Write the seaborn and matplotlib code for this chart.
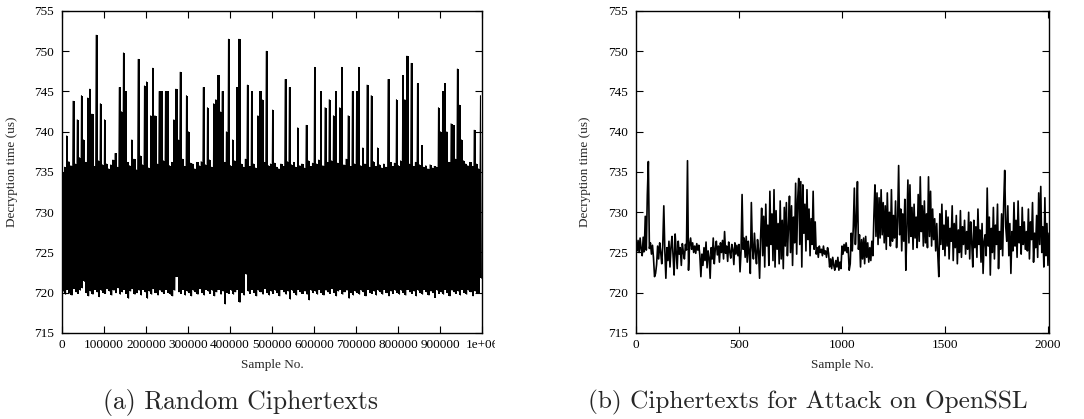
import numpy as np
import pandas as pd
import matplotlib
matplotlib.use("Agg")
import matplotlib.pyplot as plt
from matplotlib.transforms import Bbox, TransformedBbox
import seaborn as sns

# (a) random ciphertexts: 1e6 samples summarised as max / min per bin of 5000
BIN = 5000
rand_bin_max = [
    735.0, 735.6, 739.5, 736.3, 735.8, 743.8, 736.0, 741.5, 736.8, 744.5,
    739.0, 736.2, 744.2, 745.3, 742.2, 735.7, 752.0, 736.4, 743.5, 735.9,
    741.5, 736.0, 735.4, 735.9, 736.5, 737.3, 735.6, 745.5, 742.5, 749.8,
    745.0, 736.2, 735.8, 739.0, 736.6, 735.3, 749.0, 737.0, 735.9, 745.7,
    746.2, 735.5, 742.0, 747.9, 742.0, 736.0, 745.0, 745.0, 736.4, 745.0,
    745.0, 735.8, 736.2, 741.5, 745.3, 739.0, 747.4, 736.6, 735.7, 744.5,
    740.0, 736.1, 736.0, 735.4, 736.2, 735.8, 736.3, 745.5, 735.9, 743.0,
    736.5, 735.6, 743.5, 744.0, 747.0, 742.5, 745.0, 736.2, 740.0, 751.5,
    735.8, 739.0, 736.4, 745.5, 751.5, 736.0, 735.6, 736.6, 745.8, 735.7,
    745.0, 736.0, 735.5, 742.0, 745.0, 744.0, 736.2, 750.0, 735.8, 736.0,
    742.7, 736.1, 735.6, 735.4, 736.0, 735.7, 746.5, 736.3, 745.5, 735.9,
    736.2, 735.6, 740.5, 735.8, 736.0, 735.5, 740.8, 736.4, 735.7, 736.1,
    748.0, 736.0, 736.5, 745.0, 735.8, 743.0, 736.2, 744.0, 736.4, 742.0,
    745.0, 736.1, 743.0, 748.0, 735.9, 736.6, 742.0, 735.7, 745.0, 736.0,
    745.0, 748.0, 735.8, 738.0, 736.0, 745.8, 735.6, 744.5, 736.3, 735.7,
    738.0, 735.9, 735.5, 736.0, 735.6, 746.5, 736.2, 735.7, 736.1, 744.0,
    735.8, 736.4, 747.0, 744.0, 749.4, 736.0, 748.5, 735.7, 736.2, 746.0,
    735.9, 738.3, 735.6, 735.8, 735.4, 735.9, 735.5, 735.7, 735.6, 743.0,
    740.0, 745.0, 746.0, 740.0, 736.2, 741.0, 740.8, 736.6, 747.8, 743.3,
    739.0, 736.4, 736.0, 735.8, 736.2, 735.7, 740.2, 736.0, 735.4, 744.5,
]
rand_bin_min = [
    720.2, 719.8, 720.4, 720.0, 719.7, 720.5, 720.1, 719.9, 720.3, 720.6,
    721.4, 720.0, 719.6, 720.2, 719.8, 720.4, 720.1, 719.5, 720.3, 720.0,
    719.9, 720.5, 720.2, 719.7, 720.3, 720.0, 720.6, 719.8, 720.1, 720.4,
    719.9, 719.3, 720.2, 720.5, 719.8, 720.0, 720.3, 719.7, 720.4, 720.1,
    719.3, 720.2, 719.8, 720.5, 720.0, 719.7, 720.3, 720.1, 719.9, 720.4,
    720.0, 719.8, 719.6, 720.3, 722.0, 720.1, 719.9, 720.4, 719.7, 720.2,
    720.0, 719.6, 720.3, 720.1, 719.8, 720.5, 720.0, 719.7, 720.4, 720.2,
    719.9, 720.3, 719.6, 720.1, 720.4, 719.8, 720.2, 718.6, 720.0, 719.9,
    720.3, 719.8, 720.1, 720.4, 718.8, 720.0, 719.7, 722.3, 720.2, 719.9,
    720.4, 720.0, 719.6, 720.3, 720.1, 719.8, 720.5, 720.0, 719.7, 720.2,
    719.9, 720.3, 720.0, 719.6, 720.4, 720.1, 719.8, 720.2, 719.2, 720.3,
    720.0, 719.7, 720.4, 720.1, 719.9, 720.2, 719.8, 719.1, 720.3, 720.0,
    720.2, 719.8, 720.4, 720.0, 719.7, 720.3, 720.1, 719.9, 720.5, 720.0,
    719.6, 720.2, 720.4, 719.8, 720.1, 720.3, 719.3, 720.0, 719.7, 720.2,
    720.0, 719.8, 720.3, 720.1, 719.6, 720.4, 720.0, 719.9, 720.2, 719.7,
    720.3, 720.1, 719.8, 720.4, 720.0, 719.6, 720.2, 719.9, 720.3, 720.0,
    719.8, 720.3, 720.0, 719.7, 720.4, 720.1, 719.9, 720.2, 719.6, 720.3,
    720.0, 719.8, 720.4, 720.1, 719.7, 720.2, 720.0, 719.4, 720.3, 719.9,
    720.1, 719.8, 720.4, 720.0, 719.6, 720.3, 720.1, 719.9, 720.2, 719.7,
    720.4, 720.0, 719.8, 720.3, 720.1, 719.6, 720.2, 720.0, 719.9, 721.8,
]

# (b) ciphertexts for the attack on OpenSSL, read every 5th sample
ATTACK_STEP = 5
attack_time = [
    725.8, 725.2, 726.5, 725.0, 726.8, 725.4, 724.6, 726.9, 725.1, 729.5,
    725.3, 732.2, 736.3, 725.5, 726.2, 724.8, 725.9, 724.3, 722.0, 722.4,
    723.5, 725.8, 724.2, 726.2, 725.0, 723.6, 726.0, 730.8, 725.2, 721.8,
    725.6, 724.0, 726.4, 723.2, 725.7, 727.0, 724.6, 722.2, 727.3, 725.1,
    723.0, 726.4, 724.8, 725.6, 723.4, 726.1, 725.0, 724.2, 726.0, 725.3,
    736.4, 722.8, 725.9, 726.8, 725.4, 726.2, 725.0, 725.8, 724.9, 726.1,
    725.3, 725.9, 724.6, 722.0, 724.8, 723.4, 725.6, 724.0, 726.3, 723.1,
    725.2, 724.4, 721.8, 725.6, 724.2, 726.8, 723.6, 725.5, 726.4, 724.7,
    725.8, 723.8, 726.2, 725.0, 726.5, 724.2, 727.6, 724.9, 725.8, 723.9,
    726.3, 725.1, 724.3, 726.0, 725.4, 723.5, 726.2, 724.8, 725.9, 724.6,
    726.0, 722.6, 725.2, 732.2, 725.4, 726.8, 724.4, 727.0, 723.8, 726.4,
    725.0, 722.4, 731.2, 725.6, 724.2, 727.4, 725.0, 723.6, 726.6, 725.2,
    721.8, 727.0, 730.5, 724.6, 729.5, 723.2, 731.0, 725.8, 728.4, 723.4,
    732.6, 726.0, 729.8, 724.0, 732.8, 723.2, 730.2, 725.4, 728.6, 723.6,
    731.4, 724.2, 729.0, 723.0, 730.6, 725.8, 731.2, 724.6, 728.0, 732.0,
    725.0, 730.8, 723.4, 729.4, 726.2, 733.6, 724.8, 731.6, 734.2, 726.0,
    733.8, 723.2, 733.4, 727.4, 731.0, 725.2, 732.8, 726.6, 730.4, 724.6,
    729.2, 726.0, 732.6, 725.4, 728.8, 724.8, 725.6, 724.4, 725.8, 725.0,
    725.4, 724.6, 725.8, 724.8, 725.2, 724.4, 725.6, 724.9, 723.2, 724.2,
    723.0, 724.4, 723.4, 722.8, 724.0, 723.2, 724.4, 722.8, 723.8, 723.0,
    725.8, 724.8, 726.0, 725.2, 726.2, 725.0, 725.6, 722.8, 723.6, 727.4,
    725.2, 728.2, 733.0, 726.0, 729.0, 733.8, 725.4, 727.2, 723.2, 726.6,
    724.2, 726.8, 723.6, 727.0, 724.4, 726.2, 723.8, 725.6, 724.0, 726.4,
    724.6, 729.6, 733.4, 727.0, 732.4, 726.0, 731.8, 726.8, 732.8, 727.2,
    731.2, 726.2, 730.8, 725.4, 732.4, 727.0, 730.0, 725.8, 732.8, 726.4,
    729.6, 726.8, 731.4, 725.6, 728.8, 735.8, 727.2, 730.4, 725.2, 729.8,
    726.4, 731.6, 722.8, 728.2, 734.0, 726.2, 733.4, 727.0, 730.6, 725.4,
    731.0, 726.8, 729.4, 725.6, 732.2, 726.4, 734.4, 727.6, 730.8, 725.8,
    731.4, 726.2, 729.8, 725.6, 734.4, 727.0, 732.6, 725.8, 730.4, 726.6,
    729.2, 725.2, 728.6, 724.8, 722.0, 729.8, 726.0, 731.0, 725.4, 728.4,
    724.6, 730.2, 725.8, 729.4, 724.2, 728.0, 726.4, 730.8, 724.0, 728.6,
    725.6, 729.6, 723.6, 727.8, 725.0, 730.2, 724.4, 728.2, 726.0, 729.0,
    724.8, 727.6, 725.4, 730.0, 724.2, 728.8, 726.2, 723.2, 729.0, 725.6,
    728.2, 724.4, 730.4, 726.0, 727.8, 723.8, 728.6, 722.4, 726.4, 727.2,
    724.6, 733.0, 725.8, 729.4, 722.2, 728.0, 725.0, 730.6, 724.2, 728.4,
    726.0, 731.0, 723.0, 727.6, 725.4, 729.8, 724.6, 731.0, 735.2, 728.2,
    726.4, 730.8, 724.6, 728.6, 722.4, 727.6, 725.2, 731.2, 725.8, 729.0,
    724.4, 731.4, 726.2, 728.2, 724.8, 730.6, 726.0, 728.8, 725.4, 727.6,
    725.2, 730.4, 724.2, 728.8, 726.6, 731.2, 723.8, 727.4, 725.6, 729.6,
    724.4, 732.4, 726.0, 733.2, 725.0, 728.2, 723.2, 731.8, 724.6, 728.6,
    723.4, 727.4,
]

y_ticks = [715, 720, 725, 730, 735, 740, 745, 750, 755]
rand_ticks = [0, 100000, 200000, 300000, 400000, 500000,
              600000, 700000, 800000, 900000, 1000000]
rand_tick_labels = ["0", "100000", "200000", "300000", "400000", "500000",
                    "600000", "700000", "800000", "900000", "1e+06"]
attack_ticks = [0, 500, 1000, 1500, 2000]

n_bins = len(rand_bin_max)
bin_centre = np.arange(n_bins) * BIN + BIN / 2
# interleave bin max and min so the line sweeps the full band
rand_df = pd.DataFrame({
    "sample": np.ravel(np.column_stack([bin_centre - BIN / 4,
                                        bin_centre + BIN / 4])),
    "time": np.ravel(np.column_stack([rand_bin_max, rand_bin_min])),
})
attack_df = pd.DataFrame({
    "sample": np.arange(len(attack_time)) * ATTACK_STEP,
    "time": attack_time,
})

sns.set_style("ticks")
plt.rcParams["font.family"] = ["Liberation Serif", "DejaVu Serif"]
plt.rcParams["path.simplify"] = False  # keep every zigzag of the dense traces

W, H = 1084, 419
fig = plt.figure(figsize=(W / 100, H / 100), dpi=100)


def px_axes(x0, x1, y0, y1):
    return fig.add_axes([x0 / W, 1 - y1 / H, (x1 - x0) / W, (y1 - y0) / H])


ax_a = px_axes(62, 482, 11, 333)
ax_b = px_axes(636, 1049, 11, 333)

# per-bin range of the 1e6 samples, as a solid envelope plus the trace
ax_a.fill_between(bin_centre, rand_bin_min, rand_bin_max, step="mid",
                  color="black", linewidth=0)
sns.lineplot(data=rand_df, x="sample", y="time", ax=ax_a, color="black",
             linewidth=0.7, sort=False, estimator=None)
sns.lineplot(data=attack_df, x="sample", y="time", ax=ax_b, color="black",
             linewidth=1.2, sort=False, estimator=None)

for ax in (ax_a, ax_b):
    ax.set_ylim(715, 755)
    ax.set_yticks(y_ticks)
    ax.tick_params(direction="in", length=5, width=0.8, top=True, right=True,
                   labelsize=9.5, colors="black")
    ax.tick_params(axis="y", pad=6)
    ax.tick_params(axis="x", pad=4)
    for sp in ax.spines.values():
        sp.set_linewidth(1.0)
        sp.set_color("black")
        sp.set_zorder(3)
    ax.set_xlabel("Sample No.", fontsize=9.5)
    ax.set_ylabel("Decryption time (us)", fontsize=9.5)
    ax.xaxis.set_label_coords(0.5, -0.08)

ax_a.set_xlim(0, 1000000)
ax_a.set_xticks(rand_ticks)
ax_a.set_xticklabels(rand_tick_labels)
ax_a.yaxis.set_label_coords(-0.105, 0.5)

ax_b.set_xlim(0, 2005)
ax_b.set_xticks(attack_ticks)
ax_b.set_xticklabels([str(t) for t in attack_ticks])
ax_b.yaxis.set_label_coords(-0.11, 0.5)

# the last tick label of (a) is cut by the subfigure edge
clip = TransformedBbox(Bbox([[0, 0], [495 / W, 1]]), fig.transFigure)
last = ax_a.get_xticklabels()[-1]
last.set_clip_box(clip)
last.set_clip_on(True)

fig.text(241 / W, 1 - 402 / H, "(a) Random Ciphertexts", family="cmr10",
         fontsize=18.5, ha="center", va="center")
fig.text(808 / W, 1 - 402 / H, "(b) Ciphertexts for Attack on OpenSSL",
         family="cmr10", fontsize=18.2, ha="center", va="center")

fig.savefig("out.png", dpi=100)
